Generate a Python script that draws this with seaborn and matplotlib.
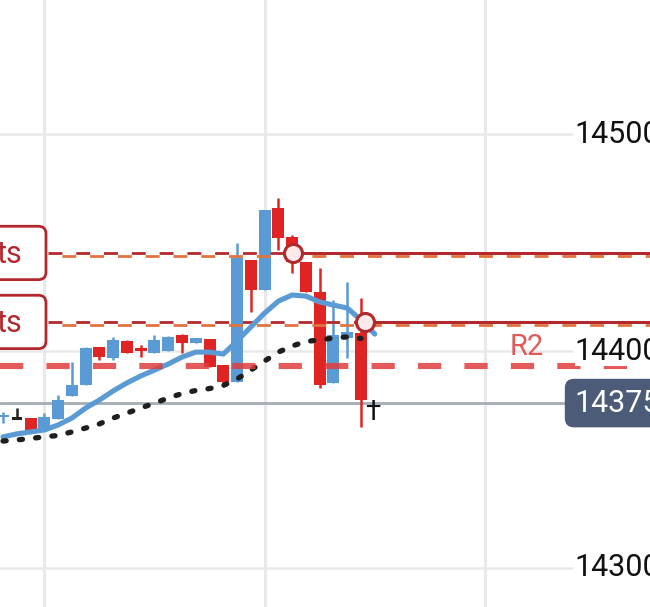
import matplotlib
matplotlib.use("Agg")
import matplotlib.pyplot as plt
import seaborn as sns
import pandas as pd
from matplotlib.patches import FancyBboxPatch

# candles (one per bar)
opens = [14369.5, 14368.8, 14369.1, 14363.6, 14368.7, 14379.3, 14384.3, 14401.8, 14396.8, 14404.6,
         14400.9, 14399.1, 14400.0, 14407.4, 14403.7, 14405.5, 14393.5, 14385.7, 14441.9, 14428.1,
         14465.9, 14452.5, 14441.0, 14427.2, 14385.3, 14406.0, 14408.3]
highs = [14372.0, 14373.7, 14369.1, 14371.4, 14379.7, 14394.9, 14401.8, 14401.8, 14406.5, 14405.0,
         14402.8, 14407.4, 14406.9, 14407.8, 14406.0, 14405.5, 14393.5, 14449.8, 14441.9, 14465.0,
         14470.5, 14453.5, 14441.0, 14438.2, 14423.5, 14431.8, 14424.4]
lows = [14367.0, 14368.8, 14363.1, 14363.6, 14368.7, 14379.3, 14384.3, 14395.9, 14396.0, 14399.1,
        14397.2, 14399.1, 14400.0, 14399.1, 14403.7, 14392.6, 14384.3, 14385.7, 14418.0, 14428.1,
        14446.5, 14435.9, 14427.2, 14383.0, 14385.3, 14396.8, 14365.0]
closes = [14370.0, 14368.8, 14363.1, 14369.6, 14377.4, 14384.3, 14401.4, 14397.2, 14405.1, 14399.1,
          14400.2, 14405.1, 14406.5, 14403.7, 14406.0, 14392.6, 14385.7, 14442.9, 14428.1, 14465.0,
          14452.1, 14441.0, 14427.2, 14384.3, 14407.4, 14408.8, 14377.4]

# moving averages
fast_ma = [14360.4, 14361.8, 14362.7, 14363.6, 14365.9, 14369.1, 14373.7, 14377.4, 14381.6, 14385.3,
           14388.5, 14391.2, 14394.0, 14397.2, 14399.5, 14399.5, 14398.6, 14404.6, 14411.1, 14417.5,
           14423.0, 14425.8, 14425.3, 14422.6, 14421.2, 14419.8, 14414.3, 14407.8]
slow_ma = [14358.5, 14359.0, 14359.7, 14360.4, 14361.1, 14362.7, 14364.5, 14366.4, 14369.1, 14371.4,
           14373.7, 14376.0, 14378.3, 14380.4, 14381.8, 14382.7, 14384.1, 14387.1, 14391.2, 14395.4,
           14399.5, 14402.3, 14404.4, 14405.1, 14406.0, 14406.5, 14405.8]

# horizontal levels
level_solid = [14445.2, 14413.4]
level_dash = [14443.8, 14412.0]
level_start = [21.05, 26.3]
level_label = ["ts", "ts"]
r2_level = 14393.1
last_price = 14376.0
last_label = "14375"
grid_prices = [14300, 14400, 14500]
grid_bars = [3, 19, 35]
signal_bar = 26.85
signal_price = 14371.5

BLUE = "#5b9bd5"
RED = "#e02424"
DARKRED = "#b3282d"
ORANGE = "#e2733f"

sns.set_theme(style="white")
plt.rcParams["font.family"] = ["Roboto", "DejaVu Sans"]

fig = plt.figure(figsize=(6.5, 6.07), dpi=100)
ax = fig.add_axes([0, 0, 1, 1])
ax.set_xlim(-0.22, 46.99)
ax.set_ylim(14282.0, 14561.8)
ax.axis("off")

# grid
for b in grid_bars:
    ax.axvline(b, color="#e9e9e9", lw=2.2, zorder=0)
for p in grid_prices:
    ax.axhline(p, xmax=0.88, color="#e9e9e9", lw=1.8, zorder=0)

# last price line
ax.axhline(last_price, xmax=0.87, color="#a4acb6", lw=2.0, zorder=1)

# candles
df = pd.DataFrame({"o": opens, "h": highs, "l": lows, "c": closes})
df["i"] = range(len(df))
for _, r in df.iterrows():
    if r.c > r.o:
        col = BLUE
    elif r.c < r.o:
        col = RED
    else:
        col = "#222222"
    ax.vlines(r.i, r.l, r.h, color=col, lw=1.8, zorder=2)
    lo = min(r.o, r.c)
    h = max(abs(r.c - r.o), 1.2)
    if r.c == r.o:
        lo -= 0.6
        width = 0.7
    else:
        width = 0.87
    ax.bar(r.i, h, bottom=lo, width=width, color=col, lw=0, zorder=2)

# levels
for sol, dsh, st in zip(level_solid, level_dash, level_start):
    ax.hlines(sol, 3.27, st, color=DARKRED, lw=2.0, linestyles=(0, (5, 5)), zorder=3)
    ax.hlines(sol, st, 47, color=DARKRED, lw=2.2, zorder=3)
    ax.hlines(dsh, 3.27, 47, color=ORANGE, lw=2.0, linestyles=(5, (5, 5)), zorder=3)

# moving averages
sns.lineplot(x=range(len(fast_ma)), y=fast_ma, ax=ax, color=BLUE, lw=3.7, zorder=4)
sns.lineplot(x=range(len(slow_ma)), y=slow_ma, ax=ax, color="#1e1e1e", lw=3.8,
             linestyle=(0, (0.6, 2.5)), dash_capstyle="round", zorder=4)

# R2
ax.axhline(r2_level, color="#e03c3c", lw=4.4, alpha=0.85, linestyle=(0, (3.8, 3.8)), zorder=5)
ax.text(36.8, r2_level + 2.3, "R2", color="#e05a5a", fontsize=21, va="bottom", ha="left", zorder=5)

# signal marker
ax.text(signal_bar, signal_price, "†", color="#111111", fontsize=20, ha="center", va="center",
        zorder=6)

# circles at level starts
ax.plot(level_start, level_solid, "o", ms=13, mfc="#fce9e9", mec=DARKRED, mew=2.2, zorder=6, ls="none")

# left labels
for sol, lab in zip(level_solid, level_label):
    box = FancyBboxPatch((-3.0, sol - 12.3), 6.12, 24.6,
                         boxstyle="round,pad=0,rounding_size=0.55", mutation_aspect=6.35,
                         fc="white", ec=DARKRED, lw=2.0, zorder=7)
    ax.add_patch(box)
    ax.text(1.4, sol - 0.5, lab, color=DARKRED, fontsize=22, ha="right", va="center", zorder=8)

# price axis labels
for p in grid_prices:
    ax.text(0.884, p, str(p), transform=ax.get_yaxis_transform(), fontsize=22,
            color="#111111", va="center", ha="left", zorder=8,
            bbox=dict(fc="white", ec="none", pad=0))
ax.text(0.884, last_price, last_label, transform=ax.get_yaxis_transform(), fontsize=22,
        color="white", va="center", ha="left", zorder=9,
        bbox=dict(boxstyle="round,pad=0.32,rounding_size=0.3", fc="#4c5b78", ec="none"))

fig.savefig("out.png", dpi=100)
